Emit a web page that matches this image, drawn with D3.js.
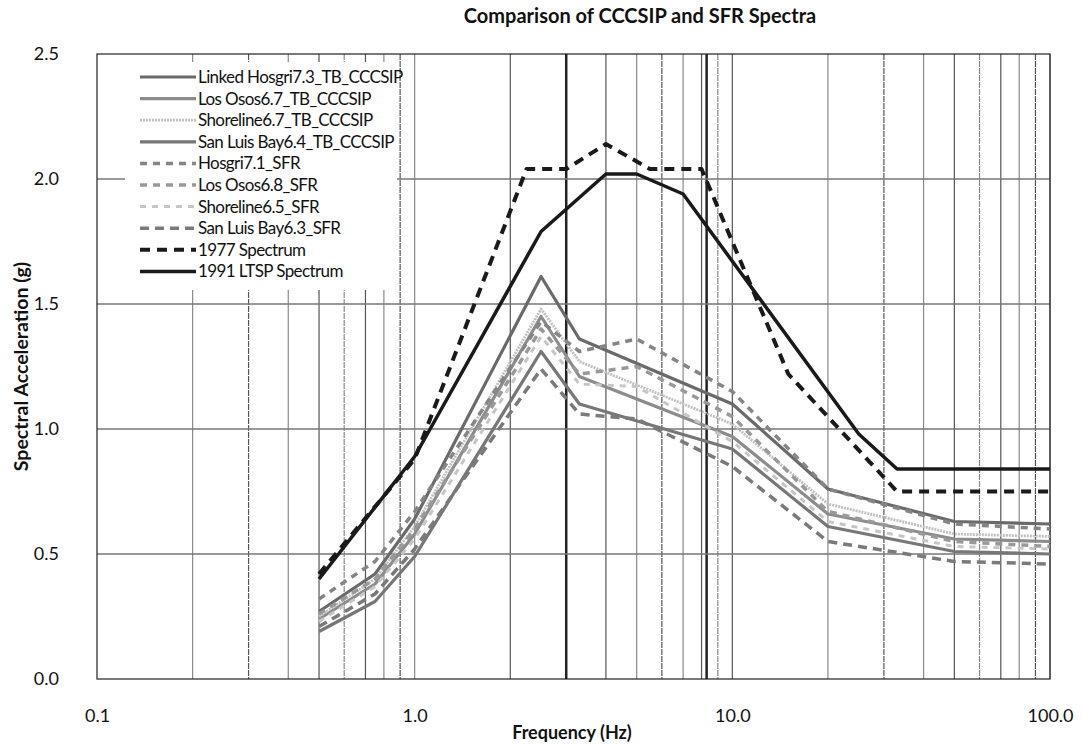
<!DOCTYPE html>
<html>
<head>
<meta charset="utf-8">
<script src="https://cdn.jsdelivr.net/npm/d3@7"></script>
<style>
  body { margin: 0; background: #fff; }
  svg { display: block; }
</style>
</head>
<body>
<svg id="chart" width="1084" height="744"></svg>
<script>
// values (frequency Hz, spectral acceleration g)
let linkedHosgriTB = [[0.5,0.27],[0.75,0.42],[1,0.64],[2.5,1.61],[3.3,1.36],[10,1.10],[20,0.76],[50,0.63],[100,0.62]];
let losOsosTB = [[0.5,0.24],[0.75,0.38],[1,0.58],[2.5,1.45],[3.3,1.21],[10,0.97],[20,0.66],[50,0.56],[100,0.55]];
let shorelineTB = [[0.5,0.25],[0.75,0.40],[1,0.61],[2.5,1.48],[3.3,1.27],[10,1.02],[20,0.70],[50,0.58],[100,0.57]];
let sanLuisBayTB = [[0.5,0.19],[0.75,0.31],[1,0.49],[2.5,1.31],[3.3,1.10],[10,0.92],[20,0.61],[50,0.51],[100,0.50]];
let hosgriSFR = [[0.5,0.32],[0.75,0.47],[1,0.67],[2.5,1.43],[3.3,1.31],[5,1.36],[10,1.15],[20,0.76],[50,0.62],[100,0.60]];
let losOsosSFR = [[0.5,0.26],[0.75,0.40],[1,0.60],[2.5,1.40],[3.3,1.22],[5,1.25],[10,1.05],[20,0.67],[50,0.55],[100,0.53]];
let shorelineSFR = [[0.5,0.23],[0.75,0.37],[1,0.56],[2.5,1.37],[3.3,1.18],[5,1.17],[10,0.95],[20,0.63],[50,0.53],[100,0.52]];
let sanLuisBaySFR = [[0.5,0.21],[0.75,0.34],[1,0.52],[2.5,1.24],[3.3,1.06],[5,1.04],[10,0.85],[20,0.55],[50,0.47],[100,0.46]];
let spectrum1977 = [[0.5,0.42],[1,0.88],[2.25,2.04],[3,2.04],[4,2.14],[5.5,2.04],[8,2.04],[15,1.22],[33,0.75],[100,0.75]];
let spectrum1991 = [[0.5,0.40],[1,0.89],[2.5,1.79],[4,2.02],[5,2.02],[7,1.94],[25,0.98],[33,0.84],[100,0.84]];

let seriesNames = ["Linked Hosgri7.3_TB_CCCSIP", "Los Osos6.7_TB_CCCSIP", "Shoreline6.7_TB_CCCSIP",
    "San Luis Bay6.4_TB_CCCSIP", "Hosgri7.1_SFR", "Los Osos6.8_SFR", "Shoreline6.5_SFR",
    "San Luis Bay6.3_SFR", "1977 Spectrum", "1991 LTSP Spectrum"];
let seriesValues = [linkedHosgriTB, losOsosTB, shorelineTB, sanLuisBayTB, hosgriSFR,
    losOsosSFR, shorelineSFR, sanLuisBaySFR, spectrum1977, spectrum1991];

let xTicks = [0.1, 1, 10, 100];
let yTicks = [0, 0.5, 1.0, 1.5, 2.0, 2.5];
let heavyGridFreqs = [3, 8.3];

let styles = [
    {color: "#6a6a6a", width: 3.2, dash: null},
    {color: "#8c8c8c", width: 3.2, dash: null},
    {color: "#c0c0c0", width: 2.8, dash: "2,1"},
    {color: "#777", width: 3.2, dash: null},
    {color: "#858585", width: 3.5, dash: "7,6"},
    {color: "#999", width: 3.5, dash: "7,6"},
    {color: "#c6c6c6", width: 3, dash: "6,6"},
    {color: "#7a7a7a", width: 3.5, dash: "9,6"},
    {color: "#1a1a1a", width: 4, dash: "10,7"},
    {color: "#1a1a1a", width: 3.5, dash: null}
];

let fontFamily = "Lato, 'Open Sans', sans-serif";

function drawChart(svgId) {
    let svg = d3.select(svgId);
    let left = 97, right = 1050, top = 54, bottom = 679;

    let x = d3.scaleLog().domain([0.1, 100]).range([left, right]);
    let y = d3.scaleLinear().domain([0, 2.5]).range([bottom, top]);

    // vertical minor gridlines (2..10 in each decade)
    let minor = [];
    for (let dec of [0.1, 1, 10]) {
        for (let k = 2; k <= 10; k++) minor.push(dec * k);
    }
    svg.append("g").selectAll("line")
        .data(minor)
        .enter().append("line")
        .attr("x1", d => x(d)).attr("x2", d => x(d))
        .attr("y1", top).attr("y2", bottom)
        .style("stroke", (d, i) => i % 2 ? "#555" : "#8a8a8a")
        .style("stroke-width", 1.2)
        .style("stroke-dasharray", (d, i) => i % 3 == 1 ? "6,1" : null);

    svg.append("g").selectAll("line")
        .data(heavyGridFreqs)
        .enter().append("line")
        .attr("x1", d => x(d)).attr("x2", d => x(d))
        .attr("y1", top).attr("y2", bottom)
        .style("stroke", "#222")
        .style("stroke-width", 2.5);

    // horizontal gridlines
    svg.append("g").selectAll("line")
        .data(yTicks.slice(1, -1))
        .enter().append("line")
        .attr("x1", left).attr("x2", right)
        .attr("y1", d => y(d)).attr("y2", d => y(d))
        .style("stroke", "#777")
        .style("stroke-width", 1.5);

    // frame
    svg.append("rect")
        .attr("x", left).attr("y", top)
        .attr("width", right - left).attr("height", bottom - top)
        .style("fill", "none")
        .style("stroke", "#222")
        .style("stroke-width", 1.2);

    // legend background hides grid behind it
    svg.append("rect")
        .attr("x", left + 28).attr("y", top + 8)
        .attr("width", 272).attr("height", 228)
        .style("fill", "#fff");

    // series
    let line = d3.line().x(d => x(d[0])).y(d => y(d[1]));
    seriesValues.forEach(function (values, i) {
        svg.append("path")
            .datum(values)
            .attr("d", line)
            .style("fill", "none")
            .style("stroke", styles[i].color)
            .style("stroke-width", styles[i].width)
            .style("stroke-dasharray", styles[i].dash)
            .style("stroke-linejoin", "round");
    });

    // axes
    let xAxis = svg.append("g")
        .attr("transform", "translate(0," + (bottom + 27) + ")")
        .call(d3.axisBottom(x).tickValues(xTicks).tickFormat(d3.format(".1f")).tickSize(0))
        .style("font-family", fontFamily)
        .style("font-size", 18);
    xAxis.select(".domain").remove();
    xAxis.selectAll("text").style("fill", "#111");

    let yAxis = svg.append("g")
        .attr("transform", "translate(" + (left - 38) + ",0)")
        .call(d3.axisLeft(y).tickValues(yTicks).tickFormat(d3.format(".1f")).tickSize(0))
        .style("font-family", fontFamily)
        .style("font-size", 18);
    yAxis.select(".domain").remove();
    yAxis.selectAll("text").attr("x", 0).attr("dy", "0.32em").style("fill", "#111");

    svg.append("text")
        .attr("x", 640)
        .attr("y", 23)
        .attr("text-anchor", "middle")
        .text("Comparison of CCCSIP and SFR Spectra")
        .style("font-family", fontFamily)
        .style("font-weight", "bold")
        .style("font-size", 20)
        .style("fill", "#111");

    svg.append("text")
        .attr("x", 572)
        .attr("y", 739)
        .attr("text-anchor", "middle")
        .text("Frequency (Hz)")
        .style("font-family", fontFamily)
        .style("font-weight", "bold")
        .style("font-size", 18)
        .style("fill", "#111");

    svg.append("text")
        .attr("transform", "translate(28," + ((top + bottom) / 2) + ") rotate(-90)")
        .attr("text-anchor", "middle")
        .text("Spectral Acceleration (g)")
        .style("font-family", fontFamily)
        .style("font-weight", "bold")
        .style("font-size", 19.5)
        .style("fill", "#111");

    addLegend(svg, left + 43, top + 23);
}

function addLegend(svg, lx, ly) {
    let rowHeight = 21.6;
    seriesNames.forEach(function (name, i) {
        let cy = ly + i * rowHeight;
        svg.append("line")
            .attr("x1", lx).attr("x2", lx + 56)
            .attr("y1", cy).attr("y2", cy)
            .style("stroke", styles[i].color)
            .style("stroke-width", styles[i].width)
            .style("stroke-dasharray", styles[i].dash);
        svg.append("text")
            .attr("x", lx + 58)
            .attr("y", cy)
            .attr("dy", "0.35em")
            .text(name)
            .style("font-family", fontFamily)
            .style("font-size", 17)
            .style("letter-spacing", "-0.6px")
            .style("fill", "#111");
    });
}

drawChart("#chart");
</script>
</body>
</html>
